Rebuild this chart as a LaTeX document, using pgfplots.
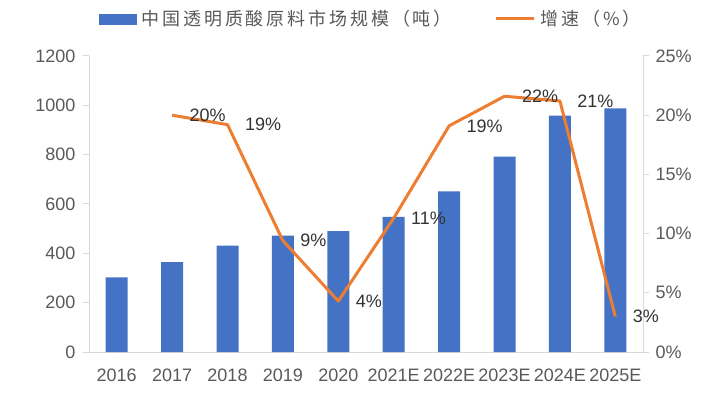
\documentclass[border=0pt]{standalone}
\usepackage{pgfplots}
\pgfplotsset{compat=1.18}
\usepackage{fontspec}
\setmainfont{Liberation Sans}
\newfontfamily\cjk{Noto Sans CJK SC}[LetterSpace=16]
\definecolor{barblue}{HTML}{4472C4}
\definecolor{lineorange}{HTML}{ED7D31}
\definecolor{axgray}{HTML}{D9D9D9}
\definecolor{txtgray}{HTML}{595959}
\begin{document}
\begin{tikzpicture}[x=1pt,y=1pt]
\useasboundingbox (0,0) rectangle (714,396);
\pgfplotsset{
  base/.style={
    at={(89pt,44pt)}, anchor=south west,
    scale only axis, width=554pt, height=296pt,
    xmin=-0.5, xmax=9.5,
    xtick={0,...,9},
    tick align=outside,
    major tick length=6pt,
    tick style={axgray, line width=1pt},
    axis line style={axgray, line width=1pt},
    tick label style={font=\fontsize{18}{20}\selectfont, text=txtgray},
    /pgf/number format/assume math mode=true,
    /pgf/number format/1000 sep={},
  }
}
\begin{axis}[base,
  axis y line*=left, axis x line*=bottom,
  ymin=0, ymax=1200, ytick={0,200,...,1200},
  xticklabels={2016,2017,2018,2019,2020,2021E,2022E,2023E,2024E,2025E},
  x tick style={draw=none},
  xticklabel style={yshift=-7pt},
  yticklabel style={xshift=-4pt},
]
\addplot[ybar, bar width=22pt, fill=barblue, draw=none] coordinates {
(0,303) (1,364) (2,431) (3,472) (4,490) (5,548) (6,651) (7,792) (8,958) (9,988)};
\end{axis}
\begin{axis}[base,
  axis y line*=right, axis x line=none,
  ymin=0, ymax=25, ytick={0,5,...,25},
  yticklabel={\pgfmathprintnumber{\tick}\%},
  yticklabel style={xshift=3pt},
  legend style={at={(0.018,1.125)}, anchor=west, draw=none, fill=none, inner sep=0pt,
    font=\fontsize{18}{20}\selectfont\cjk, text=txtgray,
    /tikz/every even column/.append style={column sep=38pt},
    nodes={inner xsep=5pt, inner ysep=0pt}},
  legend columns=2,
]
\addlegendimage{legend image code/.code={\fill[barblue] (0pt,-5pt) rectangle (37pt,5pt);}}
\addlegendentry{中国透明质酸原料市场规模（吨）}
\addplot[lineorange, line width=3pt, line join=round, mark=none, sharp plot,
  legend image code/.code={\draw[lineorange, line width=3pt] (0pt,0pt) -- (38pt,0pt);},
  nodes near coords, point meta=explicit symbolic,
  every node near coord/.append style={anchor=west, inner sep=0pt, xshift=16pt,
    font=\fontsize{18}{20}\selectfont, text=black!80}]
coordinates {
(1,20.0)[20\%] (2,19.2)[19\%] (3,9.4)[9\%] (4,4.3)[4\%] (5,11.3)[11\%]
(6,19.1)[19\%] (7,21.6)[22\%] (8,21.2)[21\%] (9,3.0)[3\%]};
\addlegendentry{增速（\%）}
\end{axis}
\end{tikzpicture}
\end{document}
